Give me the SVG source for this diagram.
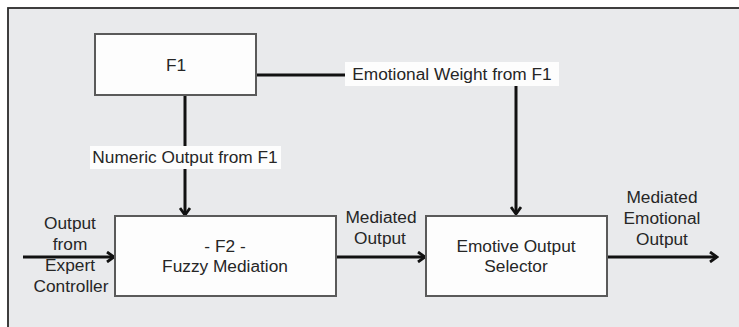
<svg xmlns="http://www.w3.org/2000/svg" width="739" height="327" viewBox="0 0 739 327">
  <defs>
    <marker id="chev" viewBox="0 0 12 12" refX="10" refY="6" markerWidth="12" markerHeight="12" markerUnits="userSpaceOnUse" orient="auto">
      <polyline points="3,1 10,6 3,11" fill="none" stroke="#111" stroke-width="2.8" stroke-linejoin="miter"/>
    </marker>
  </defs>
  <style>
    .box { fill: #fdfdfd; stroke: #5a5a5a; stroke-width: 2; }
    .lbl { fill: #fdfdfd; }
    .t { font-family: "Liberation Sans", Arial, sans-serif; font-size: 17.3px; fill: #262626; text-anchor: middle; }
    .wire { fill: none; stroke: #111; stroke-width: 3; }
    .arrow { fill: none; stroke: #111; stroke-width: 3; marker-end: url(#chev); }
  </style>

  <!-- page and panel -->
  <rect x="0" y="0" width="739" height="327" fill="#ffffff"/>
  <rect x="8" y="8" width="740" height="330" fill="#e9eaec" stroke="#2b2b2b" stroke-width="1.8"/>

  <!-- connectors -->
  <g id="connectors">
    <path class="wire" d="M256,75 H348"/>
    <path class="arrow" d="M516,86 V214"/>
    <path class="wire" d="M185,95 V147"/>
    <path class="arrow" d="M185,168 V215"/>
    <path class="arrow" d="M23,257 H114"/>
    <path class="arrow" d="M336,257 H425"/>
    <path class="arrow" d="M607,257 H717"/>
  </g>

  <!-- edge labels -->
  <g id="label-emotional-weight">
    <rect class="lbl" x="345" y="62" width="214" height="24"/>
    <text class="t" x="452" y="80">Emotional Weight from F1</text>
  </g>
  <g id="label-numeric-output">
    <rect class="lbl" x="90" y="146" width="191" height="23"/>
    <text class="t" x="185" y="163">Numeric Output from F1</text>
  </g>
  <g id="label-input">
    <text class="t" x="70" y="229">Output</text>
    <text class="t" x="70" y="250">from</text>
    <text class="t" x="70" y="271">Expert</text>
    <text class="t" x="71" y="292">Controller</text>
  </g>
  <g id="label-mediated">
    <text class="t" x="381" y="223">Mediated</text>
    <text class="t" x="380" y="244">Output</text>
  </g>
  <g id="label-final">
    <text class="t" x="662" y="203">Mediated</text>
    <text class="t" x="662" y="224">Emotional</text>
    <text class="t" x="662" y="245">Output</text>
  </g>

  <!-- nodes -->
  <g id="node-f1">
    <rect class="box" x="95" y="34" width="161" height="61"/>
    <text class="t" x="176" y="71">F1</text>
  </g>
  <g id="node-f2">
    <rect class="box" x="115" y="216" width="221" height="80"/>
    <text class="t" x="225" y="252">- F2 -</text>
    <text class="t" x="225" y="272">Fuzzy Mediation</text>
  </g>
  <g id="node-selector">
    <rect class="box" x="426" y="216" width="181" height="80"/>
    <text class="t" x="516" y="252">Emotive Output</text>
    <text class="t" x="516" y="272">Selector</text>
  </g>
</svg>
